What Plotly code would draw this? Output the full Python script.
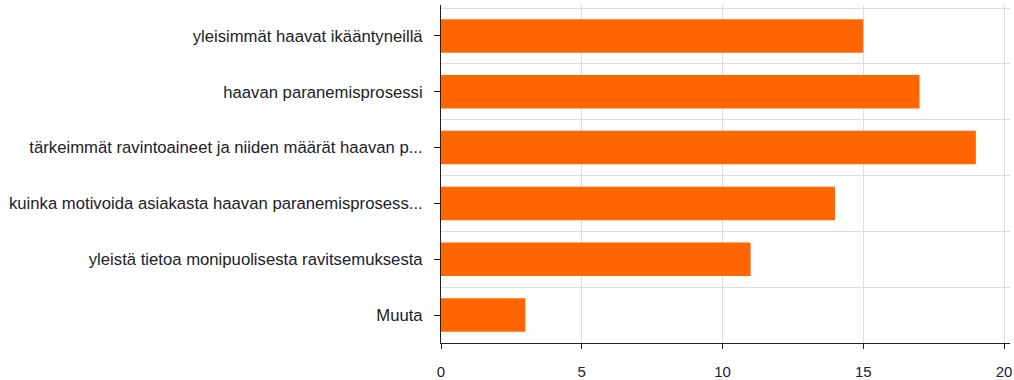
import plotly.graph_objects as go

categories = [
    "yleisimmät haavat ikääntyneillä",
    "haavan paranemisprosessi",
    "tärkeimmät ravintoaineet ja niiden määrät haavan p...",
    "kuinka motivoida asiakasta haavan paranemisprosess...",
    "yleistä tietoa monipuolisesta ravitsemuksesta",
    "Muuta",
]
values = [15, 17, 19, 14, 11, 3]
x_ticks = [0, 5, 10, 15, 20]

positions = list(range(len(categories)))

fig = go.Figure(
    go.Bar(
        x=values,
        y=positions,
        orientation="h",
        marker=dict(color="#FF6600", line=dict(width=0)),
        width=0.6,
    )
)

fig.update_layout(
    width=1014,
    height=380,
    margin=dict(l=441, r=4, t=5, b=37, autoexpand=False),
    paper_bgcolor="white",
    plot_bgcolor="white",
    font=dict(family="Liberation Sans, Arial, sans-serif", size=16, color="#222222"),
    showlegend=False,
)

fig.update_xaxes(
    range=[0, 20.213],
    tickvals=x_ticks,
    ticktext=[str(v) for v in x_ticks],
    showgrid=True,
    gridcolor="#dddddd",
    gridwidth=1,
    zeroline=False,
    showline=True,
    linecolor="#222222",
    linewidth=1,
    ticks="outside",
    ticklen=5,
    tickcolor="#222222",
    tickfont=dict(size=15),
    ticklabelstandoff=10,
    automargin=False,
)

fig.update_yaxes(
    range=[len(categories) - 0.5, -0.554],
    tickvals=positions,
    ticktext=categories,
    showgrid=False,
    zeroline=False,
    showline=True,
    linecolor="#222222",
    linewidth=1,
    ticks="outside",
    ticklen=6,
    tickcolor="#222222",
    tickfont=dict(size=16.7),
    ticklabelstandoff=8,
    automargin=False,
    minor=dict(
        tickvals=[p - 0.5 for p in positions],
        showgrid=True,
        gridcolor="#dddddd",
        gridwidth=1,
        ticks="",
    ),
)

fig.write_html("out.html")
